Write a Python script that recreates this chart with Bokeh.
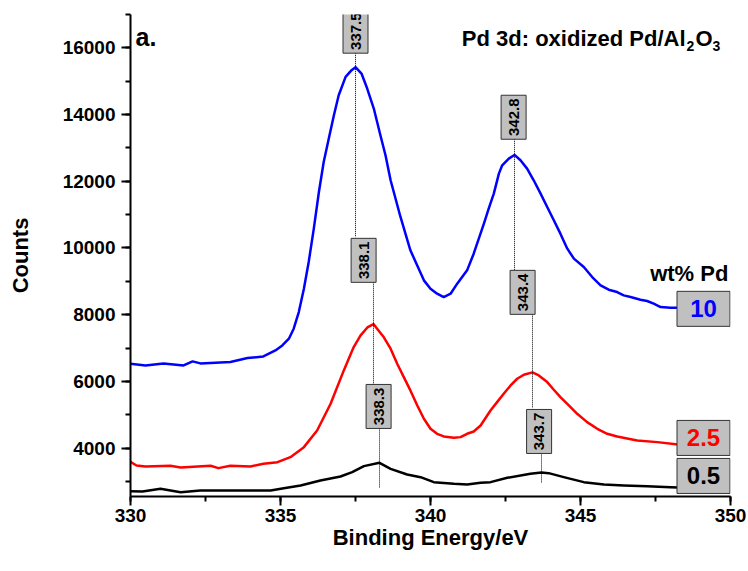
import math

from bokeh.core.properties import value
from bokeh.embed import file_html
from bokeh.models import Label, Range1d, SingleIntervalTicker
from bokeh.plotting import figure
from bokeh.resources import INLINE

FONT = "Liberation Sans"

# Pd 3d XPS spectra of oxidized Pd/Al2O3 (binding energy in eV, counts)
energy_10 = [330.00, 330.50, 331.10, 331.77, 332.07, 332.33, 333.33, 333.90, 334.43, 334.83,
             335.06, 335.28, 335.44, 335.61, 335.78, 335.94, 336.11, 336.28, 336.44, 336.61,
             336.78, 336.94, 337.17, 337.37, 337.50, 337.70, 337.89, 338.11, 338.33, 338.50,
             338.67, 339.00, 339.33, 339.78, 340.00, 340.22, 340.44, 340.67, 340.89, 341.11,
             341.22, 341.44, 341.61, 341.78, 341.94, 342.11, 342.28, 342.39, 342.61, 342.80,
             343.00, 343.22, 343.44, 343.67, 343.89, 344.11, 344.33, 344.56, 344.78, 345.11,
             345.39, 345.67, 345.94, 346.22, 346.44, 346.67, 347.00, 347.22, 347.44, 347.67,
             348.00, 348.25]
counts_10 = [6530, 6480, 6540, 6480, 6600, 6540, 6580, 6700, 6750, 6930,
             7080, 7280, 7580, 8080, 8780, 9580, 10580, 11680, 12580, 13280,
             13980, 14580, 15130, 15330, 15420, 15230, 14780, 14180, 13380, 12780,
             12030, 10930, 9930, 9030, 8780, 8630, 8530, 8630, 8930, 9200,
             9330, 9830, 10280, 10730, 11180, 11630, 12230, 12480, 12680, 12790,
             12630, 12380, 12030, 11630, 11230, 10830, 10430, 9980, 9680, 9430,
             9130, 8880, 8750, 8680, 8580, 8530, 8450, 8410, 8330, 8230,
             8210, 8210]

energy_25 = [330.00, 330.20, 330.50, 331.33, 331.67, 332.67, 332.93, 333.33, 334.00, 334.43,
             334.90, 335.33, 335.78, 336.22, 336.67, 337.11, 337.44, 337.67, 337.91, 338.10,
             338.22, 338.44, 338.67, 338.89, 339.11, 339.33, 339.56, 339.78, 340.00, 340.22,
             340.44, 340.78, 341.00, 341.22, 341.44, 341.67, 342.00, 342.22, 342.44, 342.67,
             342.89, 343.11, 343.40, 343.61, 343.89, 344.11, 344.33, 344.61, 344.89, 345.22,
             345.56, 345.89, 346.22, 346.89, 347.56, 348.25]
counts_25 = [3590, 3480, 3450, 3470, 3420, 3470, 3400, 3470, 3450, 3530,
             3580, 3730, 4030, 4530, 5330, 6330, 7030, 7380, 7630, 7720,
             7580, 7330, 6980, 6530, 6130, 5730, 5280, 4880, 4580, 4430,
             4350, 4310, 4330, 4430, 4500, 4680, 5130, 5380, 5630, 5880,
             6080, 6200, 6270, 6180, 5980, 5750, 5530, 5280, 5030, 4780,
             4580, 4430, 4350, 4230, 4180, 4110]

energy_05 = [330.00, 330.40, 331.00, 331.67, 332.33, 333.33, 334.67, 335.11, 335.67, 336.33,
             337.00, 337.39, 337.78, 338.30, 338.67, 339.22, 339.67, 340.11, 340.78, 341.22,
             341.67, 342.00, 342.56, 343.33, 343.70, 343.94, 344.44, 345.11, 345.78, 346.44,
             347.22, 348.00, 348.25]
counts_05 = [2710, 2700, 2780, 2680, 2730, 2730, 2730, 2800, 2880, 3030,
             3150, 3280, 3460, 3560, 3380, 3210, 3130, 2980, 2930, 2910,
             2960, 2980, 3110, 3230, 3270, 3250, 3130, 2980, 2910, 2880,
             2860, 2830, 2820]

# Peak position markers: label, peak energy, box centre, lower end of the drop line
peak_labels = ["337.5", "342.8", "338.1", "343.4", "338.3", "343.7"]
peak_energy = [337.5, 342.8, 338.1, 343.4, 338.3, 343.7]
peak_box_energy = [337.5, 342.77, 337.77, 343.07, 338.27, 343.62]
peak_box_counts = [16500, 13920, 9630, 8670, 5250, 4500]
peak_line_end = [10320, 9330, 5940, 5190, 2820, 2970]

# Loading tags at the right end of each spectrum
loading_labels = ["10", "2.5", "0.5"]
loading_colors = ["#0000ff", "#ff0000", "#000000"]
loading_energy = [349.1, 349.1, 349.1]
loading_counts = [8176, 4306, 3166]

p = figure(width=748, height=571, output_backend="svg", toolbar_location=None,
           x_range=Range1d(330, 350), y_range=Range1d(2550, 17000),
           min_border_left=130, min_border_right=18, min_border_top=14, min_border_bottom=75)
p.outline_line_color = None
p.xgrid.visible = False
p.ygrid.visible = False
p.background_fill_color = "white"
p.border_fill_color = "white"

p.xaxis.ticker = SingleIntervalTicker(interval=5, num_minor_ticks=2)
p.yaxis.ticker = SingleIntervalTicker(interval=2000, num_minor_ticks=2)
for ax in (p.xaxis, p.yaxis):
    ax.axis_line_width = 2
    ax.major_tick_line_width = 2
    ax.minor_tick_line_width = 2
    ax.major_tick_in = 0
    ax.minor_tick_in = 0
    ax.major_tick_out = 9
    ax.minor_tick_out = 5
    ax.major_label_text_font = FONT
    ax.major_label_text_font_style = "bold"
    ax.major_label_text_font_size = "19px"
    ax.major_label_text_color = "black"
    ax.axis_label_text_font = FONT
    ax.axis_label_text_font_style = "bold"
    ax.axis_label_text_font_size = "22px"
    ax.axis_label_text_color = "black"

p.xaxis.axis_label = "Binding Energy/eV"
p.xaxis.major_label_standoff = 3
p.xaxis.axis_label_standoff = 0
p.yaxis.axis_label = "Counts"
p.yaxis.major_label_standoff = 6
p.yaxis.axis_label_standoff = 27

# Spectra
p.line(energy_05, counts_05, line_color="black", line_width=2.5, line_join="round")
p.line(energy_25, counts_25, line_color="#ff0000", line_width=2.5, line_join="round")
p.line(energy_10, counts_10, line_color="#0000ff", line_width=2.5, line_join="round")

# Dotted drop lines from each tag down through its peak
p.segment(x0=peak_energy, y0=peak_box_counts, x1=peak_energy, y1=peak_line_end,
          line_color="black", line_width=1, line_dash="1 1")

# Peak tags (rotated text in grey boxes)
p.rect(x=peak_box_energy, y=peak_box_counts, width=25, height=44,
       width_units="screen", height_units="screen",
       fill_color="#c0c0c0", line_color="#333333", line_width=1)
p.text(x=peak_box_energy, y=peak_box_counts, text=peak_labels, angle=math.pi / 2,
       text_align="center", text_baseline="middle", text_font=value(FONT),
       text_font_size="15px", text_font_style="bold", text_color="black")

# Loading tags
p.rect(x=loading_energy, y=loading_counts, width=53, height=35,
       width_units="screen", height_units="screen",
       fill_color="#c0c0c0", line_color="#333333", line_width=1)
p.text(x=loading_energy, y=loading_counts, text=loading_labels, text_color=loading_colors,
       text_align="center", text_baseline="middle", text_font=value(FONT),
       text_font_size="24px", text_font_style="bold")

def add_label(x, y, text, size, align="left"):
    p.add_layout(Label(x=x, y=y, text=text, text_font=FONT, text_font_style="bold",
                       text_font_size=size, text_align=align, text_baseline="alphabetic",
                       text_color="black"))

add_label(330.17, 16320, "a.", "25px")
add_label(349.93, 9241, "wt% Pd", "22px", align="right")

# Panel title with subscripts
add_label(348.50, 16291, "Pd 3d: oxidized Pd/Al", "22px", align="right")
add_label(348.53, 16060, "2", "14px")
add_label(348.83, 16291, "O", "22px")
add_label(349.40, 16060, "3", "14px")

open("out.html", "w").write(file_html(p, INLINE))
